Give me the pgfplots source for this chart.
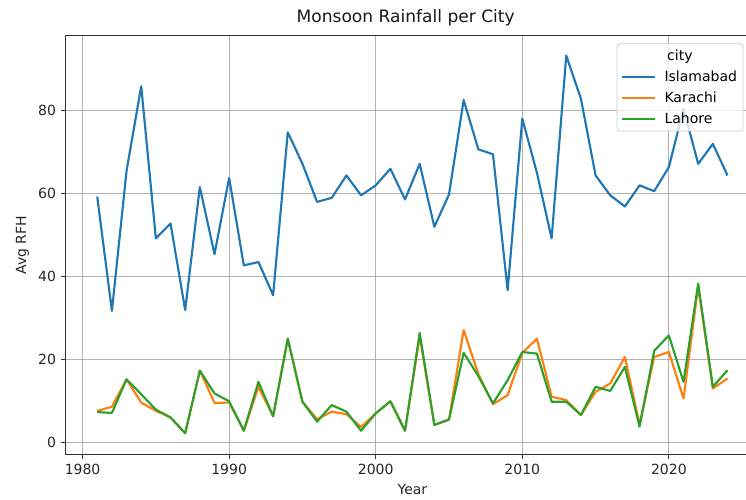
\documentclass[border=0pt]{standalone}
\usepackage{pgfplots}
\pgfplotsset{compat=1.18}
\usepackage{fontspec}
\setmainfont{DejaVu Sans}
\definecolor{tabblue}{HTML}{1F77B4}
\definecolor{taborange}{HTML}{FF7F0E}
\definecolor{tabgreen}{HTML}{2CA02C}
\begin{document}
\begin{tikzpicture}
\begin{axis}[
  name=ax,
  scale only axis,
  width=520pt, height=314pt,
  xmin=1978.85, xmax=2026.15,
  ymin=-2.9, ymax=98.1,
  xtick={1980,1990,2000,2010,2020},
  ytick={0,20,40,60,80},
  /pgf/number format/1000 sep={},
  /pgf/number format/assume math mode=true,
  tick label style={font=\fontsize{10.5}{12}\selectfont, text=black!85},
  xtick pos=lower, ytick pos=left,
  tick align=outside,
  major tick length=3.8pt,
  tick style={line width=0.85pt, black!80},
  axis line style={line width=0.85pt, black!80},
  grid=major,
  major grid style={line width=0.85pt, black!30},
  xlabel={Year}, ylabel={Avg RFH},
  label style={font=\fontsize{10.5}{12}\selectfont, text=black!85},
  title={Monsoon Rainfall per City},
  title style={font=\fontsize{12.8}{15}\selectfont, text=black!90, yshift=-2.5pt, xshift=-5pt},
  legend cell align=left,
  legend style={
    at={(0.7947,0.9818)}, anchor=north west,
    draw=black!20, line width=0.6pt, rounded corners=2pt,
    fill=white, fill opacity=0.8, text opacity=1,
    font=\fontsize{10.5}{12}\selectfont,
    inner xsep=3pt, inner ysep=3pt, row sep=3.2pt,
    nodes={inner sep=1.5pt},
    /tikz/every odd column/.append style={column sep=4.5pt},
  },
  legend image code/.code={\draw[#1, line width=1.6pt] (0pt,0pt) -- (25pt,0pt);},
  every axis plot/.append style={line width=1.6pt, line join=round},
]
\addlegendimage{empty legend}
\addlegendentry{\hspace{2pt}city}
\addplot[tabblue] coordinates {
(1981,59.3)(1982,31.7)(1983,65.5)(1984,85.9)(1985,49.2)(1986,52.8)(1987,31.9)(1988,61.6)(1989,45.4)(1990,63.8)
(1991,42.7)(1992,43.5)(1993,35.5)(1994,74.8)(1995,67.2)(1996,58.0)(1997,59.0)(1998,64.4)(1999,59.6)(2000,62.0)
(2001,66.0)(2002,58.6)(2003,67.2)(2004,52.0)(2005,59.8)(2006,82.6)(2007,70.7)(2008,69.5)(2009,36.7)(2010,78.1)
(2011,65.0)(2012,49.2)(2013,93.3)(2014,82.9)(2015,64.4)(2016,59.6)(2017,56.9)(2018,62.0)(2019,60.6)(2020,66.4)
(2021,80.5)(2022,67.2)(2023,72.0)(2024,64.4)
};
\addlegendentry{Islamabad}
\addplot[taborange] coordinates {
(1981,7.6)(1982,8.6)(1983,15.2)(1984,9.6)(1985,7.6)(1986,6.0)(1987,2.2)(1988,17.3)(1989,9.5)(1990,9.6)
(1991,2.8)(1992,13.4)(1993,6.3)(1994,25.0)(1995,9.8)(1996,5.6)(1997,7.4)(1998,6.8)(1999,3.7)(2000,7.0)
(2001,9.9)(2002,2.8)(2003,25.6)(2004,4.2)(2005,5.5)(2006,27.1)(2007,16.5)(2008,9.2)(2009,11.4)(2010,21.6)
(2011,25.0)(2012,11.0)(2013,10.2)(2014,6.6)(2015,12.2)(2016,14.2)(2017,20.6)(2018,4.3)(2019,20.6)(2020,21.8)
(2021,10.6)(2022,37.6)(2023,13.0)(2024,15.4)
};
\addlegendentry{Karachi}
\addplot[tabgreen] coordinates {
(1981,7.3)(1982,7.1)(1983,15.2)(1984,11.6)(1985,7.9)(1986,6.0)(1987,2.2)(1988,17.3)(1989,11.8)(1990,9.9)
(1991,2.8)(1992,14.6)(1993,6.3)(1994,25.0)(1995,9.8)(1996,5.0)(1997,9.0)(1998,7.4)(1999,2.8)(2000,7.0)
(2001,9.9)(2002,2.8)(2003,26.4)(2004,4.2)(2005,5.5)(2006,21.6)(2007,16.0)(2008,9.4)(2009,15.0)(2010,21.8)
(2011,21.4)(2012,9.8)(2013,9.8)(2014,6.6)(2015,13.4)(2016,12.4)(2017,18.2)(2018,3.8)(2019,22.1)(2020,25.8)
(2021,14.6)(2022,38.3)(2023,13.4)(2024,17.4)
};
\addlegendentry{Lahore}
\end{axis}
\pgfresetboundingbox
\path[use as bounding box] ([shift={(-49.3pt,-33.5pt)}]ax.south west) rectangle ([shift={(-9.75pt,26.8pt)}]ax.north east);
\end{tikzpicture}
\end{document}
